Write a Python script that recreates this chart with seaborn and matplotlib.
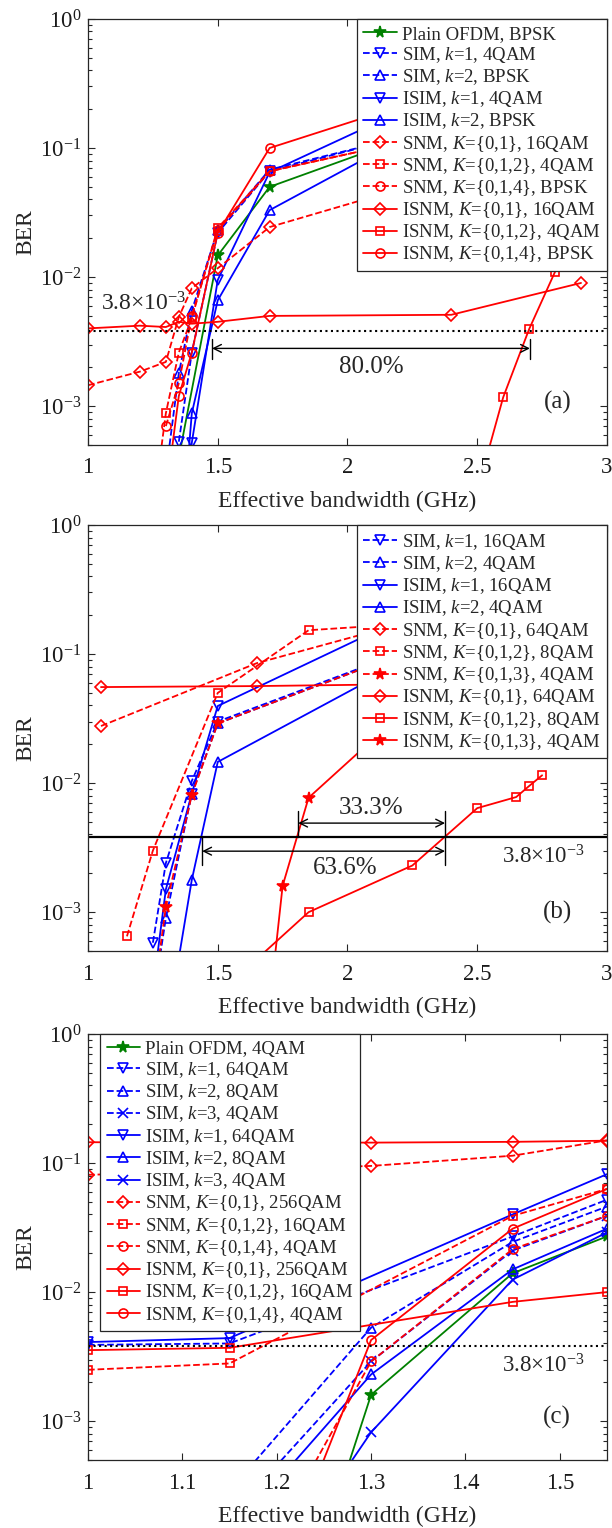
import numpy as np
import pandas as pd
import seaborn as sns
import matplotlib.pyplot as plt
from matplotlib.ticker import FormatStrFormatter, LogLocator, NullFormatter

sns.set_style('ticks')
plt.rcParams['font.family'] = ['Liberation Serif', 'DejaVu Serif']
plt.rcParams['mathtext.fontset'] = 'custom'
plt.rcParams['mathtext.rm'] = 'Liberation Serif'
plt.rcParams['mathtext.it'] = 'Liberation Serif:italic'
plt.rcParams['xtick.direction'] = 'in'
plt.rcParams['ytick.direction'] = 'in'

# ---------------- panel (a) ----------------
a_ofdm_x = [1.35, 1.5, 1.7, 2.2]
a_ofdm_y = [4.0e-4, 1.47e-2, 5.0e-2, 1.15e-1]
a_sim1_x = [1.35, 1.4, 1.5, 1.7, 2.2]
a_sim1_y = [5.3e-4, 2.6e-3, 2.2e-2, 6.6e-2, 1.2e-1]
a_sim2_x = [1.3, 1.35, 1.4, 1.5, 1.7, 2.2]
a_sim2_y = [3.0e-4, 1.8e-3, 5.5e-3, 2.3e-2, 6.8e-2, 1.2e-1]
a_isim1_x = [1.35, 1.4, 1.5, 1.7, 2.2]
a_isim1_y = [3.0e-5, 5.2e-4, 9.5e-3, 6.5e-2, 1.9e-1]
a_isim2_x = [1.35, 1.4, 1.5, 1.7, 2.2]
a_isim2_y = [5.0e-5, 8.8e-4, 6.6e-3, 3.3e-2, 1.15e-1]
a_snm01_x = [1.0, 1.2, 1.3, 1.35, 1.4, 1.5, 1.7, 2.2]
a_snm01_y = [1.45e-3, 1.85e-3, 2.2e-3, 4.9e-3, 8.2e-3, 1.17e-2, 2.44e-2, 4.8e-2]
a_snm012_x = [1.25, 1.3, 1.35, 1.4, 1.5, 1.7, 2.2]
a_snm012_y = [1.5e-4, 8.8e-4, 2.6e-3, 4.8e-3, 2.4e-2, 6.6e-2, 1.1e-1]
a_snm014_x = [1.3, 1.35, 1.4, 1.5, 1.7, 2.2]
a_snm014_y = [7.0e-4, 1.5e-3, 5.0e-3, 2.3e-2, 6.6e-2, 1.1e-1]
a_isnm01_x = [1.0, 1.2, 1.3, 1.35, 1.4, 1.5, 1.7, 2.4, 2.9]
a_isnm01_y = [4.0e-3, 4.2e-3, 4.1e-3, 4.5e-3, 4.35e-3, 4.5e-3, 5.0e-3, 5.1e-3, 9.0e-3]
a_isnm012_x = [2.5, 2.6, 2.7, 2.8, 2.9]
a_isnm012_y = [2.2e-4, 1.17e-3, 3.95e-3, 1.1e-2, 3.5e-2]
a_isnm014_x = [1.3, 1.35, 1.4, 1.5, 1.7, 2.2]
a_isnm014_y = [2.0e-4, 1.2e-3, 2.6e-3, 2.2e-2, 1.0e-1, 2.1e-1]

# ---------------- panel (b) ----------------
b_sim1_x = [1.25, 1.3, 1.4, 1.5, 2.1]
b_sim1_y = [5.8e-4, 2.4e-3, 1.04e-2, 3.0e-2, 8.5e-2]
b_sim2_x = [1.25, 1.3, 1.4, 1.5, 2.1]
b_sim2_y = [2.0e-4, 9.0e-4, 8.3e-3, 2.9e-2, 8.3e-2]
b_isim1_x = [1.25, 1.3, 1.4, 1.5, 2.1]
b_isim1_y = [2.5e-4, 1.5e-3, 8.3e-3, 3.96e-2, 1.48e-1]
b_isim2_x = [1.3, 1.4, 1.5, 2.1]
b_isim2_y = [1.1e-4, 1.78e-3, 1.46e-2, 6.5e-2]
b_snm01_x = [1.05, 1.65, 2.1]
b_snm01_y = [2.77e-2, 8.5e-2, 1.5e-1]
b_snm012_x = [1.15, 1.25, 1.5, 1.85, 2.1]
b_snm012_y = [6.5e-4, 3.0e-3, 5.0e-2, 1.53e-1, 1.65e-1]
b_snm013_x = [1.25, 1.3, 1.4, 1.5, 2.1]
b_snm013_y = [2.0e-4, 1.1e-3, 8.1e-3, 2.9e-2, 8.3e-2]
b_isnm01_x = [1.05, 1.65, 2.1]
b_isnm01_y = [5.55e-2, 5.65e-2, 5.8e-2]
b_isnm012_x = [1.6, 1.85, 2.25, 2.5, 2.65, 2.7, 2.75]
b_isnm012_y = [3.5e-4, 1.0e-3, 2.3e-3, 6.4e-3, 7.8e-3, 9.5e-3, 1.15e-2]
b_isnm013_x = [1.7, 1.75, 1.85, 2.1]
b_isnm013_y = [1.9e-4, 1.6e-3, 7.7e-3, 2.2e-2]

# ---------------- panel (c) ----------------
c_ofdm_x = [1.25, 1.3, 1.45, 1.55]
c_ofdm_y = [1.2e-4, 1.6e-3, 1.4e-2, 2.7e-2]
c_sim1_x = [1.0, 1.15, 1.45, 1.55]
c_sim1_y = [3.9e-3, 4.0e-3, 2.7e-2, 5.2e-2]
c_sim2_x = [1.15, 1.3, 1.45, 1.55]
c_sim2_y = [2.9e-4, 5.3e-3, 2.45e-2, 4.6e-2]
c_sim3_x = [1.15, 1.3, 1.45, 1.55]
c_sim3_y = [1.8e-4, 2.9e-3, 2.1e-2, 3.9e-2]
c_isim1_x = [1.0, 1.15, 1.45, 1.55]
c_isim1_y = [4.1e-3, 4.4e-3, 4.0e-2, 8.2e-2]
c_isim2_x = [1.15, 1.3, 1.45, 1.55]
c_isim2_y = [1.3e-4, 2.3e-3, 1.5e-2, 3.1e-2]
c_isim3_x = [1.15, 1.3, 1.45, 1.55]
c_isim3_y = [2.0e-5, 8.2e-4, 1.25e-2, 2.9e-2]
c_snm01_x = [1.0, 1.3, 1.45, 1.55]
c_snm01_y = [8.1e-2, 9.5e-2, 1.14e-1, 1.5e-1]
c_snm012_x = [1.0, 1.15, 1.45, 1.55]
c_snm012_y = [2.5e-3, 2.8e-3, 3.9e-2, 6.3e-2]
c_snm014_x = [1.2, 1.3, 1.45, 1.55]
c_snm014_y = [1.4e-4, 2.9e-3, 2.15e-2, 3.9e-2]
c_isnm01_x = [1.0, 1.3, 1.45, 1.55]
c_isnm01_y = [1.45e-1, 1.44e-1, 1.46e-1, 1.49e-1]
c_isnm012_x = [1.0, 1.15, 1.45, 1.55]
c_isnm012_y = [3.55e-3, 3.7e-3, 8.4e-3, 1.0e-2]
c_isnm014_x = [1.2, 1.3, 1.45, 1.55]
c_isnm014_y = [6.0e-5, 4.25e-3, 3.1e-2, 6.3e-2]

RED, BLUE, GREEN = '#FF0000', '#0000FF', '#008000'

panel_a = [
    ('Plain OFDM, BPSK', a_ofdm_x, a_ofdm_y, GREEN, '-', '*'),
    ('SIM, $k$=1, 4QAM', a_sim1_x, a_sim1_y, BLUE, '--', 'v'),
    ('SIM, $k$=2, BPSK', a_sim2_x, a_sim2_y, BLUE, '--', '^'),
    ('ISIM, $k$=1, 4QAM', a_isim1_x, a_isim1_y, BLUE, '-', 'v'),
    ('ISIM, $k$=2, BPSK', a_isim2_x, a_isim2_y, BLUE, '-', '^'),
    ('SNM, $K$={0,1}, 16QAM', a_snm01_x, a_snm01_y, RED, '--', 'D'),
    ('SNM, $K$={0,1,2}, 4QAM', a_snm012_x, a_snm012_y, RED, '--', 's'),
    ('SNM, $K$={0,1,4}, BPSK', a_snm014_x, a_snm014_y, RED, '--', 'o'),
    ('ISNM, $K$={0,1}, 16QAM', a_isnm01_x, a_isnm01_y, RED, '-', 'D'),
    ('ISNM, $K$={0,1,2}, 4QAM', a_isnm012_x, a_isnm012_y, RED, '-', 's'),
    ('ISNM, $K$={0,1,4}, BPSK', a_isnm014_x, a_isnm014_y, RED, '-', 'o'),
]
panel_b = [
    ('SIM, $k$=1, 16QAM', b_sim1_x, b_sim1_y, BLUE, '--', 'v'),
    ('SIM, $k$=2, 4QAM', b_sim2_x, b_sim2_y, BLUE, '--', '^'),
    ('ISIM, $k$=1, 16QAM', b_isim1_x, b_isim1_y, BLUE, '-', 'v'),
    ('ISIM, $k$=2, 4QAM', b_isim2_x, b_isim2_y, BLUE, '-', '^'),
    ('SNM, $K$={0,1}, 64QAM', b_snm01_x, b_snm01_y, RED, '--', 'D'),
    ('SNM, $K$={0,1,2}, 8QAM', b_snm012_x, b_snm012_y, RED, '--', 's'),
    ('SNM, $K$={0,1,3}, 4QAM', b_snm013_x, b_snm013_y, RED, '--', '*'),
    ('ISNM, $K$={0,1}, 64QAM', b_isnm01_x, b_isnm01_y, RED, '-', 'D'),
    ('ISNM, $K$={0,1,2}, 8QAM', b_isnm012_x, b_isnm012_y, RED, '-', 's'),
    ('ISNM, $K$={0,1,3}, 4QAM', b_isnm013_x, b_isnm013_y, RED, '-', '*'),
]
panel_c = [
    ('Plain OFDM, 4QAM', c_ofdm_x, c_ofdm_y, GREEN, '-', '*'),
    ('SIM, $k$=1, 64QAM', c_sim1_x, c_sim1_y, BLUE, '--', 'v'),
    ('SIM, $k$=2, 8QAM', c_sim2_x, c_sim2_y, BLUE, '--', '^'),
    ('SIM, $k$=3, 4QAM', c_sim3_x, c_sim3_y, BLUE, '--', 'x'),
    ('ISIM, $k$=1, 64QAM', c_isim1_x, c_isim1_y, BLUE, '-', 'v'),
    ('ISIM, $k$=2, 8QAM', c_isim2_x, c_isim2_y, BLUE, '-', '^'),
    ('ISIM, $k$=3, 4QAM', c_isim3_x, c_isim3_y, BLUE, '-', 'x'),
    ('SNM, $K$={0,1}, 256QAM', c_snm01_x, c_snm01_y, RED, '--', 'D'),
    ('SNM, $K$={0,1,2}, 16QAM', c_snm012_x, c_snm012_y, RED, '--', 's'),
    ('SNM, $K$={0,1,4}, 4QAM', c_snm014_x, c_snm014_y, RED, '--', 'o'),
    ('ISNM, $K$={0,1}, 256QAM', c_isnm01_x, c_isnm01_y, RED, '-', 'D'),
    ('ISNM, $K$={0,1,2}, 16QAM', c_isnm012_x, c_isnm012_y, RED, '-', 's'),
    ('ISNM, $K$={0,1,4}, 4QAM', c_isnm014_x, c_isnm014_y, RED, '-', 'o'),
]

THR = 3.8e-3
THR_TXT = '3.8×10$^{-3}$'
SPINE = '#262626'
MARKER_SIZE = {'D': 6.5, 's': 6, 'o': 6.5, 'v': 7, '^': 7, '*': 8.5, 'x': 6.5}


def draw_series(ax, series):
    for label, xs, ys, color, ls, mk in series:
        df = pd.DataFrame({'x': xs, 'y': ys})
        filled = mk == '*'
        sns.lineplot(data=df, x='x', y='y', ax=ax, color=color, linestyle=ls,
                     marker=mk, markersize=MARKER_SIZE[mk], markeredgewidth=1.2,
                     markerfacecolor=color if filled else 'none',
                     markeredgecolor=color, linewidth=1.3,
                     errorbar=None, sort=False, label=label)


def style_axes(ax, xlim, xticks):
    ax.set_yscale('log')
    ax.set_xlim(*xlim)
    ax.set_ylim(5e-4, 1)
    ax.set_xticks(xticks)
    ax.xaxis.set_major_formatter(FormatStrFormatter('%g'))
    ax.yaxis.set_major_locator(LogLocator(base=10, numticks=10))
    ax.yaxis.set_minor_locator(LogLocator(base=10, subs=np.arange(2, 10), numticks=10))
    ax.yaxis.set_minor_formatter(NullFormatter())
    ax.tick_params(which='both', top=True, right=True, colors=SPINE, labelcolor='#1a1a1a',
                   labelsize=16.5, width=0.8)
    ax.tick_params(axis='x', which='major', pad=9)
    ax.tick_params(axis='y', which='major', pad=5)
    ax.tick_params(which='major', length=5)
    ax.tick_params(which='minor', length=3)
    for s in ax.spines.values():
        s.set_color(SPINE)
        s.set_linewidth(0.9)
    ax.set_xlabel('Effective bandwidth (GHz)', fontsize=17, labelpad=9)
    ax.set_ylabel('BER', fontsize=17)


def add_legend(ax, loc, anchor):
    leg = ax.legend(loc=loc, bbox_to_anchor=anchor, borderaxespad=0, fontsize=13.5,
                    frameon=True, fancybox=False, framealpha=1, edgecolor=SPINE,
                    handlelength=1.8, handletextpad=0.25, labelspacing=0.12,
                    borderpad=0.35, numpoints=1)
    leg.get_frame().set_linewidth(0.9)


def span_arrow(ax, x0, x1, y):
    ax.annotate('', xy=(x0, y), xytext=(x1, y),
                arrowprops=dict(arrowstyle='<->', color='k', lw=1.0,
                                shrinkA=0, shrinkB=0, mutation_scale=14))


fig = plt.figure(figsize=(6.12, 15.28), dpi=100)
ax_a = fig.add_axes([0.1438, 0.7088, 0.848, 0.2788])
ax_b = fig.add_axes([0.1438, 0.3776, 0.848, 0.2788])
ax_c = fig.add_axes([0.1438, 0.0445, 0.848, 0.2788])

# (a)
draw_series(ax_a, panel_a)
style_axes(ax_a, (1, 3), [1, 1.5, 2, 2.5, 3])
ax_a.axhline(THR, color='k', linestyle=':', linewidth=1.5)
ax_a.text(1.05, 5.0e-3, THR_TXT, fontsize=17, ha='left', va='bottom')
span_arrow(ax_a, 1.478, 2.703, 2.8e-3)
ax_a.plot([1.478, 1.478], [3.3e-3, 2.3e-3], color='k', lw=1.0)
ax_a.plot([2.703, 2.703], [3.3e-3, 2.3e-3], color='k', lw=1.0)
ax_a.text(2.09, 2.0e-3, '80.0%', fontsize=18, ha='center', va='center')
ax_a.text(2.81, 1.07e-3, '(a)', fontsize=18, ha='center', va='center')
add_legend(ax_a, 'upper right', (1.0, 1.0))

# (b)
draw_series(ax_b, panel_b)
style_axes(ax_b, (1, 3), [1, 1.5, 2, 2.5, 3])
ax_b.axhline(THR, color='k', linestyle='-', linewidth=1.6)
span_arrow(ax_b, 1.81, 2.376, 4.9e-3)
span_arrow(ax_b, 1.44, 2.376, 2.97e-3)
ax_b.plot([1.81, 1.81], [6.1e-3, 3.8e-3], color='k', lw=1.0)
ax_b.plot([1.44, 1.44], [3.8e-3, 2.3e-3], color='k', lw=1.0)
ax_b.plot([2.376, 2.376], [6.1e-3, 2.3e-3], color='k', lw=1.0)
ax_b.text(2.09, 6.4e-3, '33.3%', fontsize=18, ha='center', va='center')
ax_b.text(1.99, 2.2e-3, '63.6%', fontsize=18, ha='center', va='center')
ax_b.text(2.757, 2.7e-3, THR_TXT, fontsize=16.5, ha='center', va='center')
ax_b.text(2.81, 1.0e-3, '(b)', fontsize=18, ha='center', va='center')
add_legend(ax_b, 'upper right', (1.0, 1.0))

# (c)
draw_series(ax_c, panel_c)
style_axes(ax_c, (1, 1.55), [1, 1.1, 1.2, 1.3, 1.4, 1.5])
ax_c.axhline(THR, color='k', linestyle=':', linewidth=1.5)
ax_c.text(1.483, 2.7e-3, THR_TXT, fontsize=16.5, ha='center', va='center')
ax_c.text(1.497, 1.07e-3, '(c)', fontsize=18, ha='center', va='center')
add_legend(ax_c, 'upper left', (0.023, 1.0))

for ax in (ax_a, ax_b, ax_c):
    ax.yaxis.set_label_coords(-0.1, 0.5)

fig.savefig('out.png', dpi=100)
